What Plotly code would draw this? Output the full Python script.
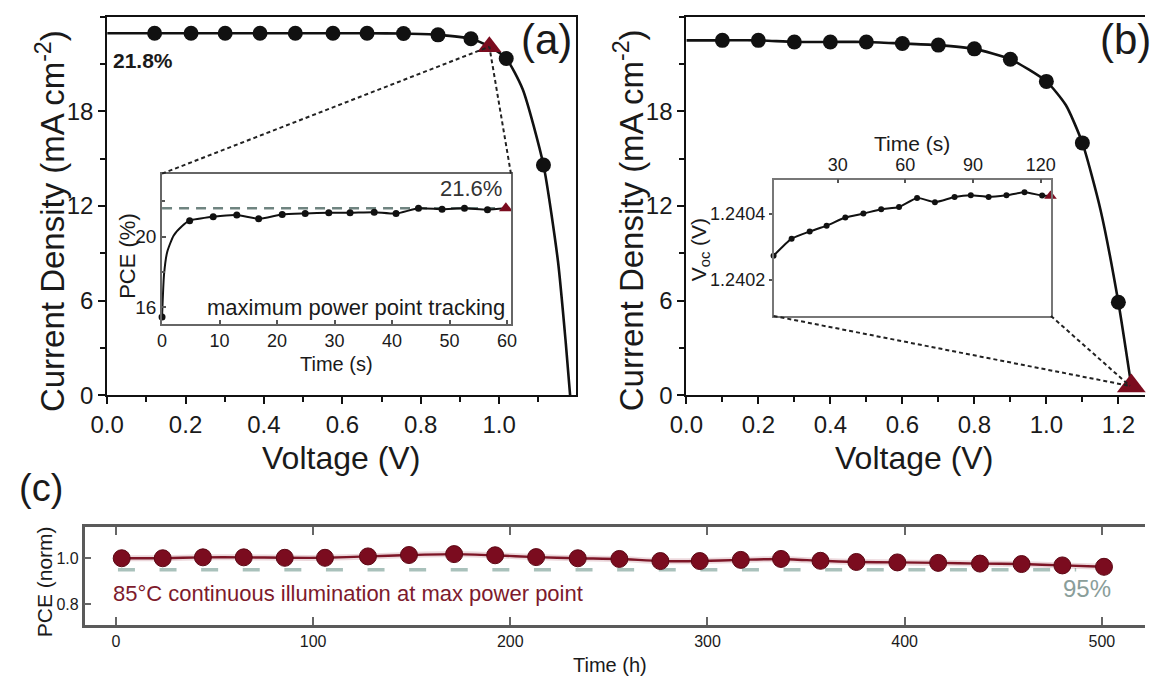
import plotly.graph_objects as go

# ---------------- data ----------------
# Panel (a): J-V curve (markers) and extra points
a_mark_v = [0.121, 0.214, 0.301, 0.390, 0.480, 0.576, 0.663, 0.756, 0.844, 0.928, 1.018, 1.113]
a_mark_j = [22.95, 22.95, 22.95, 22.95, 22.95, 22.95, 22.95, 22.93, 22.85, 22.6, 21.35, 14.6]
a_curve_v = [0.0, 1.06, 1.15, 1.17, 1.181]
a_curve_j = [22.95, 19.4, 8.5, 3.3, 0.0]
a_mpp_v = [0.975]
a_mpp_j = [22.1]

# Panel (b): J-V curve
b_mark_v = [0.10, 0.20, 0.30, 0.40, 0.50, 0.60, 0.70, 0.80, 0.90, 1.00, 1.10, 1.20]
b_mark_j = [22.5, 22.5, 22.4, 22.4, 22.4, 22.3, 22.2, 21.96, 21.3, 19.9, 16.0, 5.9]
b_curve_v = [0.0, 1.054, 1.15]
b_curve_j = [22.5, 18.4, 11.8]
b_voc_v = [1.236]
b_voc_j = [0.6]

# Inset (a): maximum power point tracking
ai_mark_t = [0.0, 4.8, 8.9, 13.0, 16.8, 20.9, 24.9, 29.0, 32.7, 36.9, 40.7, 44.6, 48.7, 52.6, 56.6]
ai_mark_p = [15.45, 20.9, 21.12, 21.22, 21.0, 21.25, 21.31, 21.35, 21.35, 21.38, 21.3, 21.6, 21.55, 21.6, 21.52]
ai_curve_t = [0.34, 0.9, 2.0, 3.5]
ai_curve_p = [17.83, 19.13, 20.05, 20.6]
ai_end_t = [59.8]
ai_end_p = [21.6]
ai_ref = 21.6

# Inset (b): Voc vs time
bi_t = [1.6, 9.6, 17.6, 25.1, 33.4, 41.4, 49.3, 57.2, 65.2, 73.1, 81.8, 89.0, 96.9, 104.8, 112.8, 120.6]
bi_v = [1.2402725, 1.2403245, 1.2403463, 1.2403642, 1.2403890, 1.2404009, 1.2404140, 1.2404209,
        1.2404487, 1.2404358, 1.2404516, 1.2404567, 1.2404516, 1.2404567, 1.2404657, 1.2404558]
bi_end_t = [124.3]
bi_end_v = [1.2404545]

# Panel (c): normalised PCE vs time
c_t = [2.9, 23.7, 44.1, 64.8, 85.6, 106.0, 127.8, 148.6, 171.5, 192.3, 213.1, 234.2, 255.3,
       276.1, 296.1, 316.9, 337.3, 357.3, 375.5, 396.3, 417.0, 438.2, 459.3, 480.0, 501.1]
c_pce = [1.000, 1.000, 1.004, 1.004, 1.002, 1.002, 1.008, 1.014, 1.018, 1.013, 1.005, 1.000, 0.997,
         0.988, 0.988, 0.993, 0.997, 0.989, 0.984, 0.982, 0.980, 0.977, 0.975, 0.969, 0.963]
c_ref = 0.95
c_ref_t = [1.0, 487.0]

a_xticks = [0.0, 0.2, 0.4, 0.6, 0.8, 1.0]
b_xticks = [0.0, 0.2, 0.4, 0.6, 0.8, 1.0, 1.2]
j_ticks = [0, 6, 12, 18]
ai_xticks = [0, 10, 20, 30, 40, 50, 60]
ai_yticks = [16, 20]
bi_xticks = [30, 60, 90, 120]
bi_yticks = [1.2402, 1.2404]
c_xticks = [0, 100, 200, 300, 400, 500]
c_yticks = [0.8, 1.0]

# ---------------- layout geometry ----------------
W, H = 1151, 689
def px(p):
    return p / W
def py(p):
    return 1 - p / H

A_X = [px(92), px(570)]; A_Y = [py(403), py(17)]
B_X = [px(683), 1.0]; B_Y = A_Y
AI_X = [px(148), px(504)]; AI_Y = [py(330), py(177)]
BI_X = [px(772), px(1055)]; BI_Y = [py(322), py(183)]
C_X = [px(69), 1.0]; C_Y = [py(637), py(537)]

A_XR = [0, 1.195]; J_R = [0, 24]; B_XR = [0, 1.274]
AI_XR = [0, 60.68]; AI_YR = [15.06, 23.56]
BI_XR = [1.6, 124.5]; BI_YR = [1.2400896, 1.2405045]
C_XR = [-15.9, 521.9]; C_YR = [0.711, 1.136]

FONT = "Liberation Sans, Arial, sans-serif"
RED = "#7b0c1f"
TXT = "#1a1a1a"

def p2d(p, dom, rng):
    return rng[0] + (p - dom[0]) / (dom[1] - dom[0]) * (rng[1] - rng[0])

def merged(v1, j1, v2, j2):
    pts = sorted(zip(v1 + v2, j1 + j2))
    return [p[0] for p in pts], [p[1] for p in pts]

fig = go.Figure()

# Panel (a)
av, aj = merged(a_mark_v, a_mark_j, a_curve_v + a_mpp_v, a_curve_j + a_mpp_j)
fig.add_trace(go.Scatter(x=av, y=aj, mode="lines", line=dict(color="#111", width=2.6, shape="spline", smoothing=0.6),
                         xaxis="x", yaxis="y", cliponaxis=False))
fig.add_trace(go.Scatter(x=a_mark_v, y=a_mark_j, mode="markers", marker=dict(color="#111", size=15),
                         xaxis="x", yaxis="y", cliponaxis=False))
fig.add_trace(go.Scatter(x=a_mpp_v, y=a_mpp_j, mode="markers", marker=dict(color=RED, size=21, symbol="triangle-up"),
                         xaxis="x", yaxis="y", cliponaxis=False))

# Panel (b)
bv, bj = merged(b_mark_v, b_mark_j, b_curve_v + b_voc_v, b_curve_j + b_voc_j)
fig.add_trace(go.Scatter(x=bv, y=bj, mode="lines", line=dict(color="#111", width=2.6, shape="spline", smoothing=0.6),
                         xaxis="x2", yaxis="y2", cliponaxis=False))
fig.add_trace(go.Scatter(x=b_mark_v, y=b_mark_j, mode="markers", marker=dict(color="#111", size=15),
                         xaxis="x2", yaxis="y2", cliponaxis=False))
fig.add_trace(go.Scatter(x=b_voc_v, y=b_voc_j, mode="markers", marker=dict(color=RED, size=25, symbol="triangle-up"),
                         xaxis="x2", yaxis="y2", cliponaxis=False))

# Inset (a)
fig.add_trace(go.Scatter(x=[AI_XR[0], ai_end_t[0]], y=[ai_ref, ai_ref], mode="lines",
                         line=dict(color="#6f8480", width=2.5, dash="10px,7px"), xaxis="x3", yaxis="y3"))
iv, ip = merged(ai_mark_t, ai_mark_p, ai_curve_t + ai_end_t, ai_curve_p + ai_end_p)
fig.add_trace(go.Scatter(x=iv, y=ip, mode="lines", line=dict(color="#111", width=2, shape="spline", smoothing=0.5),
                         xaxis="x3", yaxis="y3", cliponaxis=False))
fig.add_trace(go.Scatter(x=ai_mark_t, y=ai_mark_p, mode="markers", marker=dict(color="#111", size=7),
                         xaxis="x3", yaxis="y3", cliponaxis=False))
fig.add_trace(go.Scatter(x=ai_end_t, y=ai_end_p, mode="markers", marker=dict(color=RED, size=12, symbol="triangle-up"),
                         xaxis="x3", yaxis="y3", cliponaxis=False))

# Inset (b)
fig.add_trace(go.Scatter(x=bi_t + bi_end_t, y=bi_v + bi_end_v, mode="lines",
                         line=dict(color="#111", width=2, shape="spline", smoothing=0.5),
                         xaxis="x4", yaxis="y4", cliponaxis=False))
fig.add_trace(go.Scatter(x=bi_t, y=bi_v, mode="markers", marker=dict(color="#111", size=6),
                         xaxis="x4", yaxis="y4", cliponaxis=False))
fig.add_trace(go.Scatter(x=bi_end_t, y=bi_end_v, mode="markers", marker=dict(color=RED, size=11, symbol="triangle-up"),
                         xaxis="x4", yaxis="y4", cliponaxis=False))

# Panel (c)
fig.add_trace(go.Scatter(x=c_ref_t, y=[c_ref, c_ref], mode="lines",
                         line=dict(color="#a9c1bb", width=3.5, dash="17px,24.6px"), xaxis="x5", yaxis="y5"))
fig.add_trace(go.Scatter(x=c_t, y=c_pce, mode="lines",
                         line=dict(color="rgba(150,40,60,0.18)", width=6, shape="spline", smoothing=0.6),
                         xaxis="x5", yaxis="y5", cliponaxis=False))
fig.add_trace(go.Scatter(x=c_t, y=c_pce, mode="lines+markers",
                         line=dict(color="#7d1526", width=2.4, shape="spline", smoothing=0.6),
                         marker=dict(color=RED, size=17, line=dict(color="#5c0714", width=1)),
                         xaxis="x5", yaxis="y5", cliponaxis=False))

# connectors (dotted) from insets to the marked points
tl = (p2d(AI_X[0], A_X, A_XR), p2d(AI_Y[1], A_Y, J_R))
tr = (p2d(AI_X[1], A_X, A_XR), p2d(AI_Y[1], A_Y, J_R))
bl = (p2d(BI_X[0], B_X, B_XR), p2d(BI_Y[0], B_Y, J_R))
br = (p2d(BI_X[1], B_X, B_XR), p2d(BI_Y[0], B_Y, J_R))
shapes = []
for c in (tl, tr):
    shapes.append(dict(type="line", xref="x", yref="y", x0=c[0], y0=c[1], x1=a_mpp_v[0], y1=a_mpp_j[0],
                       line=dict(color="#222", width=2, dash="4px,3px")))
for c in (bl, br):
    shapes.append(dict(type="line", xref="x2", yref="y2", x0=c[0], y0=c[1], x1=b_voc_v[0] - 0.004, y1=b_voc_j[0],
                       line=dict(color="#222", width=2, dash="4px,3px")))

main_tick = dict(family=FONT, size=24, color=TXT)

def main_x(dom, rng, ticks):
    return dict(domain=dom, range=rng, tickvals=ticks, ticktext=[f"{t:.1f}" for t in ticks],
                ticks="outside", ticklen=7, tickwidth=2, tickcolor="#111",
                minor=dict(dtick=0.1, tick0=0, ticks="outside", ticklen=5, tickwidth=2, tickcolor="#111"),
                showline=True, linecolor="#111", linewidth=2, mirror=True, showgrid=False, zeroline=False,
                tickfont=main_tick, fixedrange=True)

def main_y(dom, xname, mirror):
    return dict(domain=dom, range=J_R, tickvals=j_ticks, ticks="outside", ticklen=7, tickwidth=2, tickcolor="#111",
                minor=dict(dtick=3, tick0=0, ticks="outside", ticklen=5, tickwidth=2, tickcolor="#111"),
                showline=True, linecolor="#111", linewidth=2, mirror=mirror, showgrid=False, zeroline=False,
                tickfont=main_tick, anchor=xname, fixedrange=True)

layout = dict(
    width=W, height=H, margin=dict(l=0, r=0, t=0, b=0),
    paper_bgcolor="white", plot_bgcolor="rgba(0,0,0,0)", showlegend=False,
    font=dict(family=FONT, color=TXT),
    xaxis=dict(main_x(A_X, A_XR, a_xticks), anchor="y"),
    yaxis=main_y(A_Y, "x", True),
    xaxis2=dict(main_x(B_X, B_XR, b_xticks), anchor="y2"),
    yaxis2=main_y(B_Y, "x2", False),
    xaxis3=dict(domain=AI_X, range=AI_XR, anchor="y3", tickvals=ai_xticks, ticks="inside", ticklen=4,
                tickwidth=1.5, tickcolor="#555", showline=True, linecolor="#666", linewidth=1.6, mirror=True,
                showgrid=False, zeroline=False, tickfont=dict(family=FONT, size=18, color=TXT)),
    yaxis3=dict(domain=AI_Y, range=AI_YR, anchor="x3", tickvals=ai_yticks, ticks="inside", ticklen=4,
                tickwidth=1.5, tickcolor="#555",
                minor=dict(tickvals=[18, 22], ticks="inside", ticklen=3, tickwidth=1.5, tickcolor="#555"),
                showline=True, linecolor="#666", linewidth=1.6, mirror=True,
                showgrid=False, zeroline=False, tickfont=dict(family=FONT, size=19, color=TXT)),
    xaxis4=dict(domain=BI_X, range=BI_XR, anchor="y4", side="top", tickvals=bi_xticks, ticks="inside", ticklen=4,
                tickwidth=1.5, tickcolor="#555", showline=True, linecolor="#777", linewidth=1.6, mirror=True,
                showgrid=False, zeroline=False, tickfont=dict(family=FONT, size=18, color=TXT)),
    yaxis4=dict(domain=BI_Y, range=BI_YR, anchor="x4", tickvals=bi_yticks, ticktext=[f"{t:.4f}" for t in bi_yticks],
                ticks="outside", ticklen=3, tickwidth=1.5, tickcolor="#555", showline=True, linecolor="#777",
                linewidth=1.6, mirror=True, showgrid=False, zeroline=False,
                tickfont=dict(family=FONT, size=18, color=TXT)),
    xaxis5=dict(domain=C_X, range=C_XR, anchor="y5", tickvals=c_xticks, ticks="inside", ticklen=8, tickwidth=2,
                tickcolor="#666", showline=True, linecolor="#5a5a5a", linewidth=2.5, mirror="ticks",
                showgrid=False, zeroline=False, tickfont=dict(family=FONT, size=16, color=TXT)),
    yaxis5=dict(domain=C_Y, range=C_YR, anchor="x5", tickvals=c_yticks, ticktext=[f"{t:.1f}" for t in c_yticks],
                ticks="inside", ticklen=7, tickwidth=2, tickcolor="#666", showline=True, linecolor="#5a5a5a",
                linewidth=2.5, showgrid=False, zeroline=False, tickfont=dict(family=FONT, size=16, color=TXT)),
    shapes=shapes,
)

def ann(text, x, y, size, angle=0, color=TXT, xanchor="center", bold=False):
    t = f"<b>{text}</b>" if bold else text
    return dict(text=t, x=px(x), y=py(y), xref="paper", yref="paper", showarrow=False, textangle=angle,
                xanchor=xanchor, yanchor="middle", font=dict(family=FONT, size=size, color=color))

layout["annotations"] = [
    ann("Current Density (mA cm<sup>-2</sup>)", 34, 225, 33, -90),
    ann("Current Density (mA cm<sup>-2</sup>)", 624, 225, 33, -90),
    ann("Voltage (V)", 331, 467, 32),
    ann("Voltage (V)", 915, 467, 32),
    ann("(a)", 540, 40, 42),
    ann("(b)", 1103, 40, 42, xanchor="left"),
    ann("(c)", 0, 497, 38, xanchor="left"),
    ann("21.8%", 96, 62, 21, xanchor="left", bold=True),
    ann("PCE (%)", 112, 261, 22, -90),
    ann("Time (s)", 326, 371, 20),
    ann("21.6%", 497, 192, 22, xanchor="right", color="#333"),
    ann("maximum power point tracking", 500, 313, 22, xanchor="right"),
    ann("V<sub>oc</sub> (V)", 697, 255, 21, -90),
    ann("Time (s)", 913, 146, 21),
    ann("PCE (norm)", 28, 593, 21, -90),
    ann("Time (h)", 605, 678, 20),
    ann("85°C continuous illumination at max power point", 96, 605, 22, color="#7d1a2c", xanchor="left"),
    ann("95%", 1118, 600, 24, color="#8a9e9a", xanchor="right"),
]

fig.update_layout(**layout)
fig.write_html("out.html")
